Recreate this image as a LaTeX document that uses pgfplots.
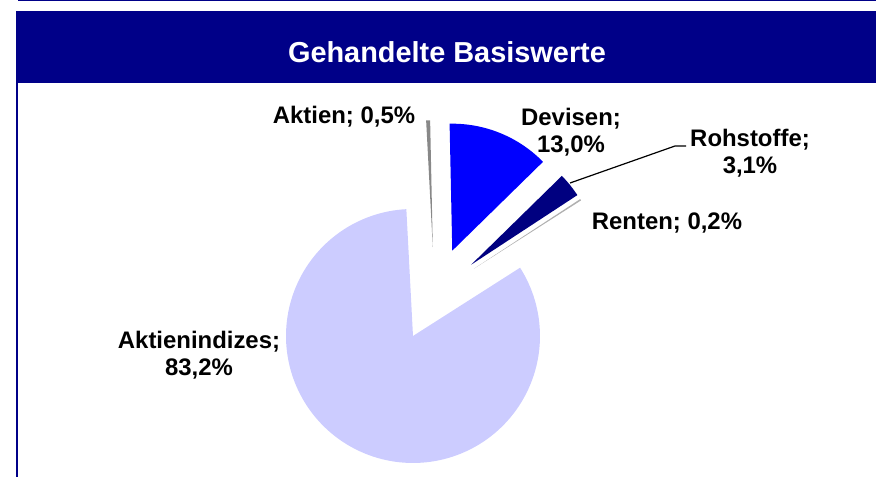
\documentclass[border=0pt]{standalone}
\usepackage{pgfplots}
\pgfplotsset{compat=1.18}
\usepackage{fontspec}
\setmainfont{Liberation Sans}
\definecolor{navybar}{HTML}{000088}
\definecolor{cIdx}{HTML}{CCCCFF}
\definecolor{cDev}{HTML}{0000FF}
\definecolor{cRoh}{HTML}{000080}
\definecolor{cAkt}{HTML}{888888}
\definecolor{cRen}{HTML}{B0B0B0}

% pie geometry (screen px, y down)
\def\cx{434.5}\def\cy{294.2}\def\rr{127}\def\ex{47}\def\startang{-3.0}

% #1 cumulative share before slice, #2 share (%), #3 colour
\newcommand\pieslice[3]{%
  \pgfmathsetmacro\aA{\startang+3.6*#1}%
  \pgfmathsetmacro\aB{\aA+3.6*#2}%
  \pgfmathsetmacro\aM{(\aA+\aB)/2}%
  \pgfmathsetmacro\px{\cx+\ex*sin(\aM)}%
  \pgfmathsetmacro\py{\cy-\ex*cos(\aM)}%
  \edef\tmp{\noexpand\addplot[fill=#3, draw=none, domain=\aA:\aB, samples=150]
    ({\px+\rr*sin(x)},{\py-\rr*cos(x)}) -- (axis cs:\px,\py) -- cycle;}%
  \tmp
}

\begin{document}
\begin{tikzpicture}
\begin{axis}[
  x=1bp, y=1bp,
  xmin=0, xmax=876, ymin=0, ymax=477,
  y dir=reverse,
  hide axis, clip=false,
]
\path (axis cs:0,0) (axis cs:876,477);
% frame and title bar
\fill[navybar] (axis cs:18,0) rectangle (axis cs:876,1.4);
\fill[navybar] (axis cs:16,11) rectangle (axis cs:876,83);
\fill[navybar] (axis cs:16,80) rectangle (axis cs:18.2,477);
\node[text=white, font=\fontsize{29}{33}\selectfont\bfseries]
  at (axis cs:447,52) {Gehandelte Basiswerte};

% slices: Aktien 0.5, Devisen 13.0, Rohstoffe 3.1, Renten 0.2, Aktienindizes 83.2
\pieslice{0}{0.5}{cAkt}
\pieslice{0.5}{13.0}{cDev}
\pieslice{13.5}{3.1}{cRoh}
\pieslice{16.6}{0.2}{cRen}
\pieslice{16.8}{83.2}{cIdx}

% leader line
\addplot[black, line width=1.2bp] coordinates {(686,146) (675,146) (570,183)};

\tikzset{lab/.style={font=\fontsize{24}{27.5}\selectfont\bfseries, align=center, inner sep=0pt}}
\node[lab] at (axis cs:344,117) {Aktien; 0,5\%};
\node[lab] at (axis cs:571,132) {Devisen;\\13,0\%};
\node[lab] at (axis cs:750,153) {Rohstoffe;\\3,1\%};
\node[lab] at (axis cs:667,223) {Renten; 0,2\%};
\node[lab] at (axis cs:199,355) {Aktienindizes;\\83,2\%};
\end{axis}
\end{tikzpicture}
\end{document}
